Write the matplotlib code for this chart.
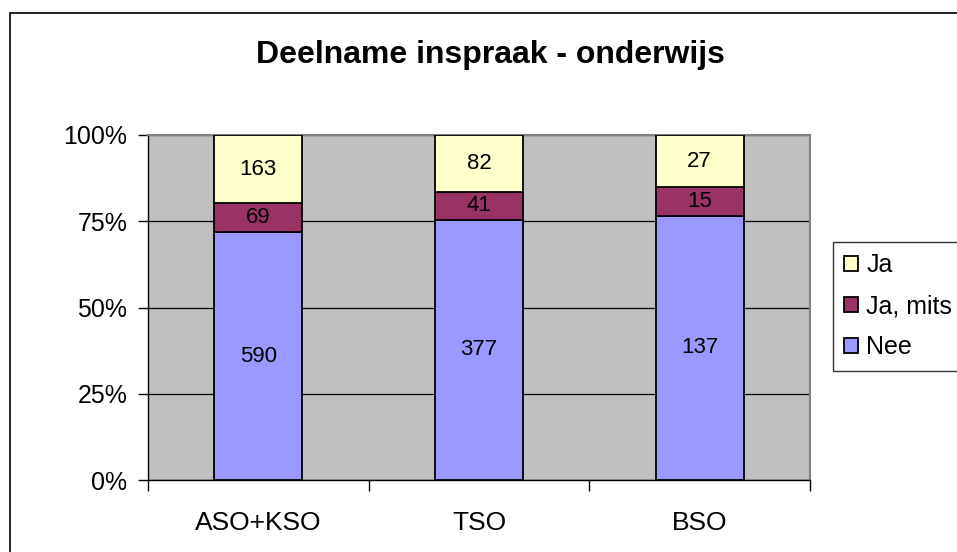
import matplotlib.pyplot as plt
import numpy as np
from matplotlib.patches import Rectangle

plt.rcParams['font.family'] = ['Liberation Sans', 'DejaVu Sans']

# Data (counts per category)
categories = ['ASO+KSO', 'TSO', 'BSO']
nee = [590, 377, 137]
ja_mits = [69, 41, 15]
ja = [163, 82, 27]

series_names = ['Nee', 'Ja, mits', 'Ja']
series_colors = ['#9999FF', '#993366', '#FFFFCC']

fig = plt.figure(figsize=(9.57, 5.52), dpi=100)
ax = fig.add_axes([148 / 957, 1 - 480 / 552, 662 / 957, 345 / 552])
ax.set_facecolor('#C0C0C0')

# outer chart frame (runs off the right and bottom edge)
fig.patches.append(Rectangle((10 / 957, -0.1), 1.2, 1 - 13 / 552 + 0.1,
                             transform=fig.transFigure, fill=False,
                             edgecolor='black', linewidth=1.2))

counts = np.array([nee, ja_mits, ja], dtype=float)
totals = counts.sum(axis=0)
shares = counts / totals * 100

x = np.arange(len(categories))
bottom = np.zeros(len(categories))
bars = []
for i in range(len(series_names)):
    b = ax.bar(x, shares[i], 0.4, bottom=bottom, color=series_colors[i],
               edgecolor='black', linewidth=1.3, label=series_names[i], zorder=3)
    for j in range(len(categories)):
        ax.text(x[j], bottom[j] + shares[i][j] / 2, f'{int(counts[i][j])}',
                ha='center', va='center', fontsize=16, zorder=4)
    bottom += shares[i]
    bars.append(b)

ax.set_xlim(-0.5, 2.5)
ax.set_ylim(0, 100)
ax.set_yticks([0, 25, 50, 75, 100])
ax.set_yticklabels(['0%', '25%', '50%', '75%', '100%'], fontsize=18)
ax.yaxis.grid(True, color='black', linewidth=0.9, zorder=0)
ax.set_axisbelow(True)

ax.set_xticks(x)
ax.set_xticklabels(categories, fontsize=19)
ax.set_xticks([-0.5, 0.5, 1.5, 2.5], minor=True)
ax.tick_params(axis='x', which='major', length=0, pad=22)
ax.tick_params(axis='x', which='minor', length=8, width=1, direction='out')
ax.tick_params(axis='y', length=7, width=1, direction='out', pad=8)

for s in ['left', 'bottom']:
    ax.spines[s].set_color('black')
    ax.spines[s].set_linewidth(1)
for s in ['top', 'right']:
    ax.spines[s].set_color('#808080')
    ax.spines[s].set_linewidth(1.5)

fig.text(490 / 957, 1 - 55 / 552, 'Deelname inspraak - onderwijs',
         ha='center', va='center', fontsize=23, fontweight='bold')

handles = [bars[2], bars[1], bars[0]]
labels = ['Ja', 'Ja, mits', 'Nee']
leg = fig.legend(handles, labels, loc='upper left',
                 bbox_to_anchor=(833 / 957, 1 - 242 / 552),
                 fontsize=18, frameon=True, fancybox=False,
                 handlelength=0.56, handleheight=0.56, handletextpad=0.32,
                 labelspacing=0.68, borderpad=0.45, borderaxespad=0)
leg.get_frame().set_edgecolor('black')
leg.get_frame().set_linewidth(1)

fig.savefig('out.png', dpi=100)
